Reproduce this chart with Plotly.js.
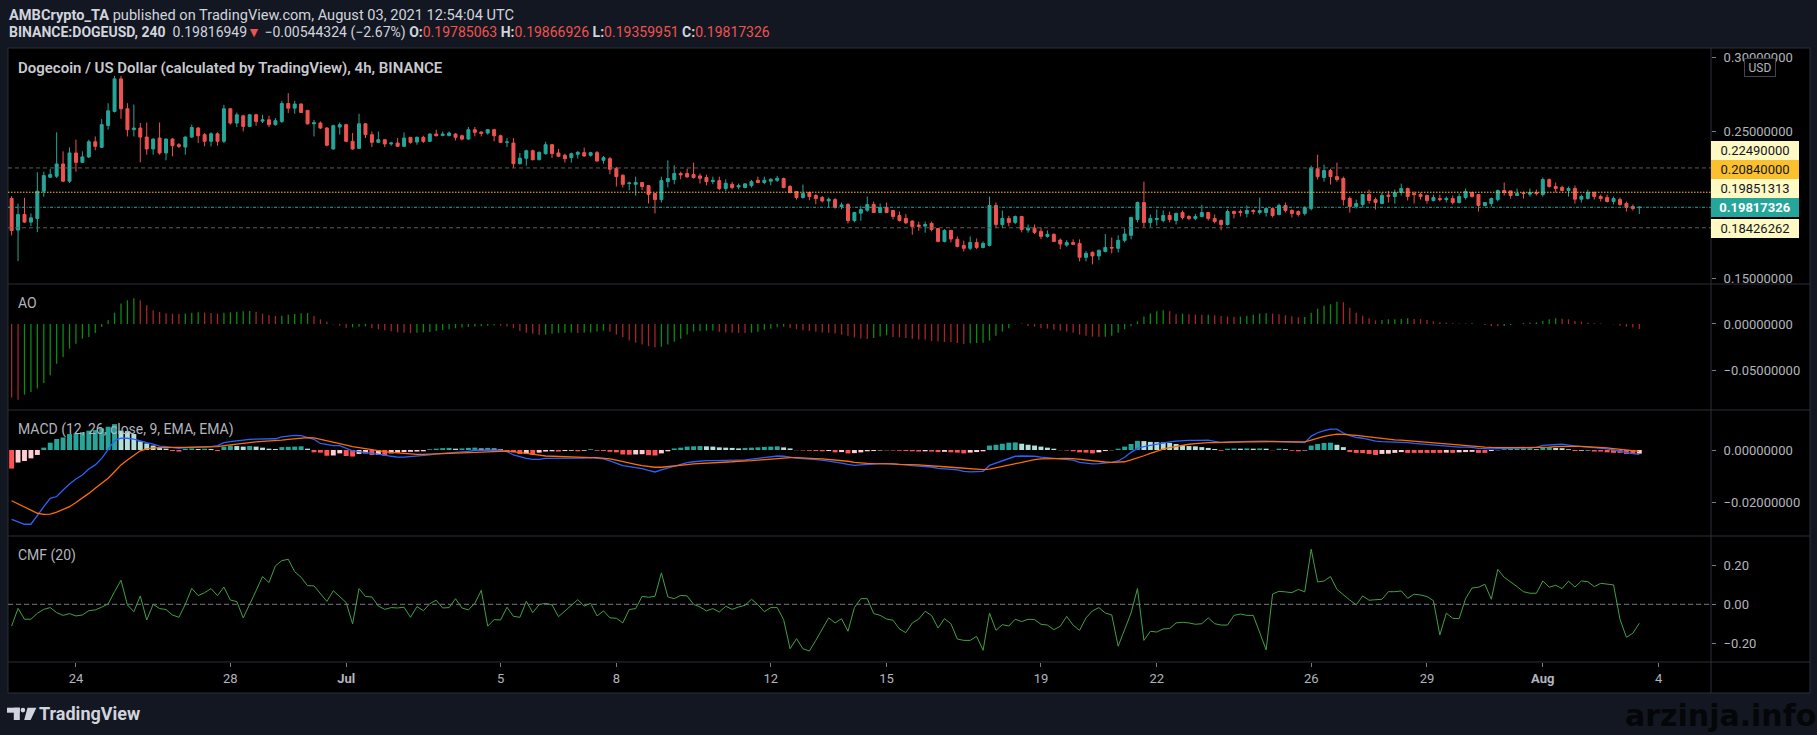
<!DOCTYPE html>
<html><head><meta charset="utf-8">
<script src="https://cdn.plot.ly/plotly-3.0.1.min.js"></script>
<style>html,body{margin:0;padding:0;background:#131722;overflow:hidden}#chart{width:1817px;height:735px}</style>
</head><body><div id="chart"></div>
<script>
// ---------- DATA ----------
const barStartUTC = Date.UTC(2021, 5, 22, 8, 0); // first 4h bar: 22 Jun 2021 08:00
const barOpen = [.2041,.1827,.1933,.1881,.1906,.2091,.2186,.2193,.2276,.2159,
.2351,.2287,.2324,.2427,.2389,.2538,.2633,.2854,.2651,.2509,
.2520,.2459,.2378,.2452,.2351,.2445,.2407,.2391,.2459,.2520,
.2475,.2430,.2481,.2430,.2651,.2554,.2603,.2531,.2610,.2567,
.2576,.2543,.2565,.2687,.2655,.2683,.2640,.2549,.2554,.2520,
.2378,.2527,.2543,.2430,.2382,.2549,.2475,.2423,.2441,.2412,
.2418,.2396,.2457,.2425,.2457,.2430,.2479,.2470,.2470,.2479,
.2468,.2445,.2509,.2493,.2486,.2509,.2468,.2423,.2418,.2278,
.2315,.2366,.2305,.2346,.2407,.2351,.2335,.2319,.2342,.2353,
.2335,.2353,.2301,.2312,.2247,.2199,.2143,.2138,.2150,.2129,
.2075,.2034,.2156,.2170,.2211,.2211,.2204,.2195,.2184,.2156,
.2163,.2109,.2138,.2120,.2116,.2129,.2165,.2150,.2159,.2165,
.2177,.2123,.2089,.2048,.2082,.2062,.2048,.2025,.2034,.1987,
.2001,.1892,.1942,.1962,.2001,.1946,.1980,.1960,.1926,.1906,
.1888,.1861,.1854,.1872,.1838,.1750,.1825,.1764,.1723,.1703,
.1743,.1709,.1723,.1994,.1865,.1906,.1879,.1919,.1827,.1840,
.1818,.1784,.1798,.1759,.1725,.1743,.1736,.1642,.1676,.1651,
.1682,.1709,.1703,.1757,.1791,.1899,.2014,.1879,.1899,.1892,
.1926,.1892,.1946,.1919,.1906,.1919,.1946,.1906,.1892,.1865,
.1953,.1953,.1940,.1960,.1946,.1946,.1973,.1933,.1994,.1960,
.1953,.1940,.1973,.2244,.2184,.2231,.2190,.2177,.2041,.1987,
.2001,.2068,.2034,.2007,.2064,.2055,.2082,.2109,.2075,.2068,
.2062,.2028,.2041,.2034,.2041,.2014,.2048,.2082,.2068,.1994,
.2007,.2034,.2096,.2093,.2062,.2080,.2071,.2082,.2068,.2170,
.2123,.2116,.2096,.2109,.2037,.2041,.2082,.2055,.2048,.2021,
.2034,.2007,.1987,.1979];
const barHigh = [.2057,.2007,.2046,.1940,.2220,.2224,.2242,.2491,.2362,.2389,
.2441,.2362,.2441,.2463,.2581,.2689,.2875,.2875,.2689,.2680,
.2554,.2558,.2450,.2558,.2450,.2452,.2418,.2463,.2543,.2527,
.2486,.2491,.2491,.2678,.2655,.2626,.2610,.2617,.2617,.2610,
.2603,.2588,.2705,.2757,.2705,.2689,.2644,.2576,.2565,.2527,
.2543,.2558,.2549,.2486,.2617,.2554,.2497,.2497,.2445,.2427,
.2452,.2491,.2459,.2463,.2468,.2486,.2509,.2497,.2497,.2486,
.2475,.2527,.2527,.2497,.2513,.2515,.2475,.2452,.2452,.2351,
.2373,.2373,.2362,.2427,.2412,.2378,.2346,.2353,.2364,.2387,
.2359,.2364,.2330,.2324,.2256,.2206,.2156,.2190,.2154,.2134,
.2077,.2190,.2301,.2267,.2224,.2244,.2285,.2211,.2204,.2190,
.2190,.2172,.2154,.2143,.2145,.2168,.2190,.2190,.2179,.2195,
.2184,.2134,.2093,.2136,.2089,.2071,.2059,.2048,.2044,.2014,
.2010,.1951,.1992,.2055,.2021,.2007,.2014,.1964,.1953,.1935,
.1894,.1885,.1885,.1885,.1840,.1833,.1827,.1784,.1755,.1784,
.1770,.1750,.2055,.2014,.1960,.1924,.1926,.1924,.1865,.1865,
.1845,.1825,.1804,.1770,.1759,.1764,.1764,.1684,.1682,.1696,
.1800,.1777,.1791,.1838,.1917,.2021,.2156,.1933,.1967,.1960,
.1953,.1946,.1960,.1928,.1937,.1998,.1946,.1933,.1899,.1967,
.1960,.1967,.1994,.1969,.2048,.1980,.1980,.2007,.2014,.1969,
.1960,.1989,.2265,.2339,.2271,.2244,.2285,.2190,.2055,.2034,
.2068,.2102,.2048,.2082,.2093,.2102,.2143,.2116,.2089,.2082,
.2068,.2068,.2068,.2055,.2062,.2075,.2109,.2089,.2068,.2016,
.2048,.2102,.2150,.2093,.2109,.2089,.2109,.2102,.2184,.2177,
.2150,.2129,.2123,.2129,.2068,.2102,.2089,.2068,.2068,.2055,
.2048,.2021,.2001,.1987];
const barLow = [.1791,.1616,.1876,.1854,.1813,.2053,.2181,.2181,.2152,.2147,
.2224,.2283,.2317,.2369,.2384,.2509,.2626,.2583,.2463,.2463,
.2287,.2339,.2339,.2339,.2301,.2328,.2384,.2339,.2452,.2418,
.2396,.2396,.2400,.2418,.2543,.2527,.2497,.2527,.2536,.2554,
.2527,.2536,.2554,.2622,.2617,.2622,.2543,.2463,.2513,.2396,
.2373,.2475,.2423,.2373,.2378,.2452,.2391,.2418,.2391,.2400,
.2391,.2391,.2414,.2407,.2418,.2425,.2463,.2463,.2463,.2436,
.2436,.2441,.2463,.2463,.2475,.2430,.2418,.2391,.2249,.2272,
.2265,.2301,.2301,.2339,.2317,.2324,.2285,.2285,.2312,.2326,
.2326,.2292,.2278,.2206,.2123,.2116,.2098,.2062,.2098,.2007,
.1940,.2014,.2116,.2138,.2172,.2184,.2177,.2143,.2131,.2138,
.2098,.2093,.2104,.2104,.2111,.2116,.2145,.2138,.2131,.2154,
.2111,.2077,.2034,.2041,.2030,.2003,.2014,.1980,.1973,.1969,
.1872,.1879,.1890,.1951,.1944,.1942,.1942,.1899,.1885,.1867,
.1795,.1822,.1809,.1818,.1743,.1743,.1743,.1709,.1682,.1691,
.1698,.1703,.1716,.1840,.1840,.1852,.1867,.1811,.1809,.1800,
.1766,.1775,.1748,.1698,.1714,.1725,.1614,.1614,.1594,.1623,
.1675,.1669,.1675,.1743,.1764,.1879,.1845,.1845,.1858,.1879,
.1879,.1865,.1899,.1894,.1894,.1913,.1892,.1872,.1825,.1858,
.1906,.1919,.1913,.1933,.1933,.1919,.1913,.1926,.1946,.1913,
.1919,.1926,.1960,.2170,.2156,.2136,.2156,.1994,.1946,.1973,
.1980,.2007,.1967,.2003,.2014,.2007,.2062,.2028,.2007,.2034,
.2007,.2021,.2021,.2014,.2001,.2007,.2034,.2048,.1953,.1987,
.1987,.2021,.2062,.2041,.2062,.2041,.2055,.2062,.2055,.2116,
.2082,.2089,.2055,.2007,.2014,.2034,.2034,.2021,.2014,.2001,
.1992,.1953,.1960,.1936];
const barClose = [.1824,.1933,.1881,.1910,.2091,.2197,.2204,.2276,.2159,.2351,
.2287,.2324,.2427,.2396,.2543,.2637,.2854,.2651,.2509,.2520,
.2459,.2378,.2445,.2351,.2445,.2400,.2396,.2459,.2524,.2468,
.2430,.2481,.2430,.2651,.2554,.2610,.2531,.2610,.2565,.2576,
.2543,.2570,.2687,.2655,.2683,.2626,.2549,.2556,.2520,.2403,
.2536,.2543,.2430,.2378,.2549,.2475,.2423,.2441,.2412,.2418,
.2396,.2452,.2423,.2457,.2430,.2479,.2468,.2479,.2486,.2457,
.2445,.2509,.2491,.2484,.2509,.2468,.2423,.2425,.2278,.2315,
.2366,.2305,.2355,.2407,.2346,.2328,.2312,.2346,.2355,.2330,
.2353,.2296,.2319,.2240,.2190,.2138,.2147,.2150,.2123,.2068,
.2034,.2163,.2177,.2211,.2202,.2188,.2184,.2179,.2156,.2165,
.2109,.2145,.2116,.2129,.2141,.2156,.2150,.2165,.2172,.2179,
.2116,.2082,.2048,.2075,.2055,.2041,.2025,.2037,.1980,.1998,
.1892,.1946,.1967,.2001,.1946,.1980,.1946,.1919,.1892,.1876,
.1852,.1852,.1865,.1831,.1750,.1825,.1766,.1716,.1703,.1743,
.1709,.1736,.1994,.1865,.1906,.1879,.1919,.1831,.1840,.1811,
.1784,.1798,.1750,.1732,.1743,.1730,.1642,.1669,.1651,.1689,
.1709,.1705,.1757,.1800,.1913,.2014,.1879,.1906,.1906,.1926,
.1899,.1940,.1913,.1906,.1919,.1946,.1906,.1885,.1865,.1953,
.1940,.1946,.1960,.1953,.1960,.1973,.1926,.1994,.1960,.1940,
.1933,.1980,.2251,.2190,.2231,.2190,.2170,.2034,.1987,.2007,
.2068,.2028,.2014,.2062,.2057,.2082,.2109,.2055,.2068,.2055,
.2028,.2048,.2034,.2041,.2014,.2055,.2089,.2055,.1994,.2014,
.2041,.2096,.2082,.2062,.2075,.2075,.2082,.2075,.2170,.2123,
.2109,.2096,.2109,.2037,.2055,.2082,.2055,.2041,.2021,.2041,
.2001,.1980,.1973,.1982];
const aoValues = [-.0789,-.0810,-.0757,-.0728,-.0692,-.0632,-.0550,-.0425,-.0353,-.0264,
-.0211,-.0157,-.0139,-.0096,-.0032,.0039,.0121,.0218,.0253,.0275,
.0253,.0200,.0146,.0128,.0114,.0110,.0106,.0111,.0121,.0125,
.0122,.0118,.0111,.0121,.0125,.0132,.0136,.0138,.0130,.0110,
.0096,.0086,.0089,.0100,.0107,.0114,.0118,.0086,.0050,.0025,
-.0005,-.0020,-.0040,-.0036,-.0031,-.0025,-.0043,-.0057,-.0068,-.0078,
-.0090,-.0095,-.0098,-.0093,-.0090,-.0086,-.0075,-.0064,-.0057,-.0046,
-.0039,-.0032,-.0028,-.0025,-.0018,-.0014,-.0018,-.0028,-.0046,-.0075,
-.0093,-.0104,-.0116,-.0114,-.0104,-.0096,-.0094,-.0092,-.0096,-.0094,
-.0092,-.0080,-.0071,-.0082,-.0114,-.0143,-.0178,-.0200,-.0221,-.0236,
-.0250,-.0243,-.0221,-.0189,-.0157,-.0114,-.0082,-.0075,-.0072,-.0070,
-.0082,-.0090,-.0093,-.0095,-.0097,-.0093,-.0082,-.0061,-.0050,-.0036,
-.0029,-.0043,-.0057,-.0068,-.0075,-.0082,-.0090,-.0095,-.0103,-.0114,
-.0125,-.0143,-.0155,-.0160,-.0150,-.0135,-.0121,-.0140,-.0143,-.0150,
-.0157,-.0165,-.0168,-.0182,-.0186,-.0193,-.0196,-.0203,-.0214,-.0207,
-.0205,-.0200,-.0178,-.0125,-.0082,-.0046,-.0004,.0004,-.0021,-.0029,
-.0043,-.0050,-.0061,-.0071,-.0082,-.0093,-.0114,-.0125,-.0136,-.0138,
-.0136,-.0125,-.0093,-.0057,-.0025,.0029,.0079,.0111,.0136,.0146,
.0136,.0104,.0111,.0104,.0100,.0098,.0100,.0093,.0086,.0079,
.0077,.0079,.0089,.0100,.0111,.0114,.0111,.0104,.0093,.0082,
.0071,.0075,.0121,.0164,.0196,.0211,.0239,.0232,.0175,.0121,
.0089,.0061,.0039,.0043,.0050,.0051,.0054,.0061,.0054,.0052,
.0043,.0029,.0018,.0014,.0007,.0004,.0005,.0007,.0000,-.0011,
-.0021,-.0025,-.0021,-.0011,.0000,.0011,.0014,.0018,.0032,.0050,
.0061,.0057,.0050,.0032,.0025,.0014,.0007,.0004,.0000,-.0004,
-.0018,-.0029,-.0039,-.0054];
const macdLine = [-.0265,-.0274,-.0284,-.0284,-.0248,-.0217,-.0185,-.0178,-.0153,-.0130,
-.0111,-.0096,-.0073,-.0057,-.0032,.0000,.0036,.0045,.0045,.0042,
.0034,.0028,.0022,.0015,.0013,.0010,.0006,.0009,.0010,.0010,
.0013,.0013,.0017,.0028,.0032,.0036,.0038,.0041,.0042,.0043,
.0043,.0043,.0050,.0053,.0056,.0055,.0048,.0041,.0025,.0022,
.0017,.0017,.0006,-.0003,-.0006,-.0009,-.0013,-.0015,-.0020,-.0024,
-.0027,-.0027,-.0025,-.0023,-.0022,-.0019,-.0015,-.0014,-.0011,-.0009,
-.0008,-.0005,-.0001,.0000,.0000,.0000,-.0001,-.0006,-.0019,-.0027,
-.0032,-.0036,-.0036,-.0032,-.0032,-.0032,-.0032,-.0031,-.0031,-.0031,
-.0029,-.0032,-.0034,-.0042,-.0052,-.0060,-.0064,-.0068,-.0071,-.0078,
-.0084,-.0076,-.0069,-.0060,-.0053,-.0048,-.0045,-.0042,-.0041,-.0041,
-.0041,-.0041,-.0039,-.0039,-.0038,-.0036,-.0032,-.0029,-.0027,-.0023,
-.0024,-.0028,-.0031,-.0033,-.0034,-.0037,-.0039,-.0042,-.0045,-.0050,
-.0055,-.0059,-.0057,-.0055,-.0052,-.0052,-.0052,-.0053,-.0055,-.0057,
-.0060,-.0062,-.0064,-.0065,-.0070,-.0073,-.0074,-.0076,-.0082,-.0084,
-.0084,-.0082,-.0059,-.0050,-.0042,-.0034,-.0024,-.0023,-.0023,-.0024,
-.0027,-.0029,-.0032,-.0034,-.0037,-.0039,-.0047,-.0051,-.0053,-.0052,
-.0050,-.0047,-.0042,-.0028,-.0009,.0006,.0013,.0018,.0023,.0027,
.0031,.0034,.0036,.0037,.0037,.0038,.0038,.0033,.0029,.0031,
.0032,.0032,.0033,.0033,.0034,.0034,.0033,.0033,.0032,.0031,
.0028,.0028,.0053,.0066,.0074,.0080,.0080,.0065,.0055,.0048,
.0045,.0039,.0034,.0032,.0031,.0031,.0031,.0028,.0025,.0023,
.0020,.0018,.0015,.0014,.0013,.0011,.0011,.0010,.0006,.0004,
.0004,.0005,.0006,.0008,.0009,.0009,.0010,.0010,.0018,.0020,
.0022,.0022,.0019,.0015,.0013,.0011,.0009,.0006,.0004,.0000,
-.0005,-.0010,-.0014,-.0017];
const signalLine = [-.0194,-.0206,-.0219,-.0232,-.0242,-.0246,-.0245,-.0238,-.0229,-.0217,
-.0201,-.0185,-.0166,-.0146,-.0127,-.0108,-.0083,-.0057,-.0038,-.0019,
-.0003,.0004,.0008,.0009,.0010,.0010,.0010,.0010,.0011,.0011,
.0013,.0013,.0013,.0017,.0020,.0024,.0027,.0029,.0031,.0033,
.0034,.0036,.0038,.0041,.0043,.0046,.0047,.0046,.0041,.0034,
.0029,.0024,.0019,.0013,.0009,.0004,.0000,-.0003,-.0006,-.0009,
-.0011,-.0014,-.0015,-.0017,-.0017,-.0017,-.0015,-.0014,-.0013,-.0011,
-.0010,-.0009,-.0008,-.0006,-.0005,-.0004,-.0004,-.0004,-.0006,-.0010,
-.0014,-.0018,-.0020,-.0023,-.0024,-.0025,-.0027,-.0027,-.0028,-.0028,
-.0029,-.0029,-.0031,-.0034,-.0039,-.0045,-.0050,-.0055,-.0060,-.0064,
-.0066,-.0066,-.0064,-.0061,-.0059,-.0056,-.0053,-.0052,-.0050,-.0048,
-.0047,-.0046,-.0045,-.0043,-.0043,-.0041,-.0039,-.0037,-.0034,-.0032,
-.0029,-.0029,-.0029,-.0031,-.0032,-.0033,-.0034,-.0036,-.0037,-.0039,
-.0043,-.0047,-.0050,-.0051,-.0052,-.0052,-.0052,-.0053,-.0055,-.0055,
-.0056,-.0057,-.0059,-.0060,-.0062,-.0064,-.0066,-.0068,-.0070,-.0073,
-.0074,-.0075,-.0073,-.0068,-.0062,-.0057,-.0052,-.0046,-.0041,-.0037,
-.0034,-.0033,-.0032,-.0032,-.0032,-.0033,-.0036,-.0039,-.0042,-.0045,
-.0046,-.0047,-.0047,-.0045,-.0038,-.0031,-.0022,-.0013,-.0004,.0003,
.0009,.0014,.0018,.0022,.0024,.0027,.0028,.0028,.0029,.0029,
.0029,.0031,.0031,.0031,.0032,.0032,.0032,.0032,.0032,.0032,
.0031,.0031,.0038,.0046,.0052,.0057,.0061,.0060,.0059,.0056,
.0053,.0050,.0047,.0043,.0041,.0039,.0038,.0036,.0033,.0031,
.0028,.0025,.0023,.0022,.0019,.0018,.0017,.0015,.0013,.0011,
.0010,.0009,.0009,.0009,.0009,.0009,.0009,.0009,.0010,.0011,
.0013,.0014,.0014,.0014,.0014,.0013,.0011,.0010,.0008,.0005,
.0003,.0000,-.0003,-.0005];
const macdHist = [-.0071,-.0048,-.0042,-.0032,-.0019,.0009,.0028,.0042,.0048,.0061,
.0064,.0068,.0074,.0076,.0083,.0089,.0099,.0074,.0072,.0061,
.0033,.0025,.0017,.0009,.0005,-.0004,-.0006,.0005,.0006,.0004,
.0005,.0004,-.0004,.0013,.0017,.0015,.0013,.0015,.0013,.0009,
.0005,.0004,.0011,.0012,.0013,.0014,.0005,-.0009,-.0010,-.0022,
-.0021,-.0013,-.0023,-.0025,-.0015,-.0013,-.0019,-.0018,-.0022,-.0013,
-.0010,-.0008,-.0007,-.0006,-.0005,.0003,.0005,.0007,.0008,.0005,
.0006,.0008,.0009,.0006,.0008,.0006,.0003,-.0004,-.0009,-.0015,
-.0014,-.0018,-.0010,-.0006,-.0005,-.0006,-.0004,-.0003,-.0005,-.0003,
.0003,-.0003,-.0004,-.0007,-.0009,-.0017,-.0018,-.0017,-.0016,-.0020,
-.0021,-.0013,-.0005,.0006,.0009,.0013,.0014,.0015,.0014,.0013,
.0010,.0009,.0008,.0006,.0008,.0009,.0010,.0012,.0013,.0014,
.0010,.0006,-.0001,-.0002,-.0003,-.0004,-.0005,-.0004,-.0009,-.0008,
-.0013,-.0012,-.0009,-.0005,-.0004,-.0002,-.0001,-.0002,-.0003,-.0004,
-.0005,-.0006,-.0005,-.0006,-.0008,-.0007,-.0009,-.0010,-.0013,-.0010,
-.0008,-.0005,.0017,.0020,.0024,.0028,.0029,.0024,.0020,.0017,
.0013,.0009,.0005,-.0001,-.0002,-.0005,-.0009,-.0010,-.0013,-.0009,
-.0004,-.0001,.0005,.0013,.0023,.0035,.0034,.0031,.0030,.0029,
.0027,.0023,.0019,.0015,.0014,.0011,.0008,.0004,-.0003,.0005,
.0006,.0005,.0006,.0005,.0006,.0005,-.0001,.0005,.0003,-.0003,
-.0005,-.0002,.0017,.0023,.0027,.0028,.0020,.0011,-.0008,-.0011,
-.0012,-.0015,-.0019,-.0015,-.0014,-.0011,-.0008,-.0011,-.0011,-.0011,
-.0011,-.0011,-.0011,-.0010,-.0011,-.0009,-.0008,-.0007,-.0011,-.0011,
-.0004,-.0001,.0003,.0004,.0005,.0006,.0007,.0003,.0010,.0011,
.0008,.0007,.0003,-.0004,-.0003,-.0002,-.0006,-.0006,-.0009,-.0011,
-.0011,-.0015,-.0015,-.0014];
const cmfValues = [-.112,-.021,-.077,-.077,-.046,-.026,-.017,-.043,-.057,-.048,
-.060,-.055,-.033,-.029,-.015,.002,.065,.124,-.003,-.038,
.043,-.081,.000,-.022,-.027,-.055,-.067,.000,.082,.045,
.060,.081,.045,.089,.022,.014,-.070,-.003,.070,.143,
.112,.198,.225,.232,.168,.139,.096,.095,.053,.015,
.070,.040,.009,-.101,.081,.040,.038,-.009,-.026,-.017,
-.019,-.015,-.067,-.012,-.033,.003,.021,-.019,-.017,.029,
-.019,-.029,.005,.072,-.112,-.079,-.081,-.015,-.062,-.067,
.015,-.043,-.002,.005,-.003,-.064,-.034,-.003,.024,-.009,
.005,-.060,-.034,-.070,-.072,-.096,-.027,-.022,.041,.036,
.041,.162,.038,.029,.046,.043,.000,-.014,-.034,-.022,
-.040,-.010,-.026,-.014,-.005,.026,-.002,-.038,-.017,-.017,
-.079,-.229,-.177,-.229,-.241,-.186,-.125,-.070,-.096,-.074,
-.139,-.017,.029,.029,-.048,-.057,-.076,-.082,-.127,-.146,
-.096,-.076,-.036,-.058,-.122,-.074,-.100,-.179,-.186,-.186,
-.165,-.237,-.045,-.134,-.105,-.112,-.077,-.089,-.077,-.079,
-.103,-.107,-.131,-.113,-.062,-.108,-.134,-.070,-.034,-.017,
-.045,-.055,-.216,-.134,-.045,.081,-.186,-.139,-.143,-.127,
-.125,-.096,-.093,-.096,-.103,-.100,-.070,-.100,-.107,-.107,
-.057,-.050,-.057,-.057,-.149,-.235,.053,.067,.064,.060,
.077,.064,.284,.115,.120,.143,.077,.048,.022,-.003,
.043,.021,.022,.026,.065,.065,.069,.031,.052,.048,
.040,.019,-.158,-.046,-.072,-.074,.029,.084,.088,.103,
.026,.180,.139,.117,.091,.065,.057,.057,.120,.088,
.098,.081,.119,.089,.120,.117,.091,.108,.105,.100,
-.077,-.170,-.149,-.098];
const tickDates = ['2021-06-24','2021-06-28','2021-07-01','2021-07-05','2021-07-08','2021-07-12','2021-07-15','2021-07-19','2021-07-22','2021-07-26','2021-07-29','2021-08-01','2021-08-04'];
const tickLabels = ['24','28','<b>Jul</b>','5','8','12','15','19','22','26','29','<b>Aug</b>','4'];
const levelValues = [0.2249, 0.2084, 0.19851313, 0.19817326, 0.18426262];
const priceTicks = [0.15, 0.25, 0.30];
const aoTicks = [0, -0.05];
const macdTicks = [0, -0.02];
const cmfTicks = [-0.2, 0, 0.2];

// ---------- derived ----------
function fmtTime(ms){ return new Date(ms).toISOString().slice(0,16).replace('T',' '); }
const barTimes = barClose.map((_, i) => fmtTime(barStartUTC + i * 4 * 3600 * 1000));
const aoColors = aoValues.map((v, i) => (i > 0 && v > aoValues[i-1]) ? '#0c8a12' : '#a3262b');
const histColors = macdHist.map((v, i) => {
  const p = i > 0 ? macdHist[i-1] : v;
  if (v >= 0) return p < v ? '#26a69a' : '#b2dfdb';
  return p < v ? '#ffcdd2' : '#ff5252';
});

// ---------- layout geometry ----------
const PL = 8, PR = 1711, PT = 48, PB = 662;
const px2x = px => (px - PL) / (PR - PL);
const py2y = py => (PB - py) / (PB - PT);
const FONT = 'Roboto, "Liberation Sans", Arial, sans-serif';
const tickFont = {family: FONT, size: 13, color: '#b2b5be'};
const yBase = {side:'right', anchor:'x', showgrid:false, zeroline:false, showline:false,
  ticks:'outside', ticklen:4, tickwidth:1, tickcolor:'#787b86', tickfont:tickFont,
  fixedrange:true, ticklabelstandoff:5};

const traces = [
  {type:'candlestick', x:barTimes, open:barOpen, high:barHigh, low:barLow, close:barClose,
   xaxis:'x', yaxis:'y', whiskerwidth:0, hoverinfo:'skip', showlegend:false,
   increasing:{line:{color:'#26a69a', width:1}, fillcolor:'#26a69a'},
   decreasing:{line:{color:'#ef5350', width:1}, fillcolor:'#ef5350'}},
  {type:'bar', x:barTimes, y:aoValues, xaxis:'x', yaxis:'y2', width:2.9e6,
   marker:{color:aoColors, line:{width:0}}, hoverinfo:'skip', showlegend:false},
  {type:'bar', x:barTimes, y:macdHist, xaxis:'x', yaxis:'y3', width:1.1e7,
   marker:{color:histColors, line:{width:0}}, hoverinfo:'skip', showlegend:false},
  {type:'scatter', mode:'lines', x:barTimes, y:macdLine, xaxis:'x', yaxis:'y3',
   line:{color:'#2962ff', width:1.3}, hoverinfo:'skip', showlegend:false},
  {type:'scatter', mode:'lines', x:barTimes, y:signalLine, xaxis:'x', yaxis:'y3',
   line:{color:'#ff6d00', width:1.3}, hoverinfo:'skip', showlegend:false},
  {type:'scatter', mode:'lines', x:barTimes, y:cmfValues, xaxis:'x', yaxis:'y4',
   line:{color:'#43a047', width:1}, hoverinfo:'skip', showlegend:false}
];

const sepColor = '#2a2e39';
const shapes = [
  {type:'rect', xref:'paper', yref:'paper', x0:px2x(8), x1:px2x(1810), y0:py2y(693), y1:py2y(48),
   fillcolor:'#000000', line:{color:sepColor, width:1}, layer:'below'},
  {type:'line', xref:'paper', yref:'paper', x0:1, x1:1, y0:py2y(693), y1:py2y(48), line:{color:sepColor, width:1}},
  ...[284, 410, 536, 662].map(py => ({type:'line', xref:'paper', yref:'paper', x0:px2x(8), x1:px2x(1810),
     y0:py2y(py), y1:py2y(py), line:{color:sepColor, width:1}})),
  {type:'line', xref:'paper', yref:'y', x0:0, x1:1, y0:levelValues[0], y1:levelValues[0], line:{color:'#5a5d55', width:1, dash:'4px,3px'}},
  {type:'line', xref:'paper', yref:'y', x0:0, x1:1, y0:levelValues[4], y1:levelValues[4], line:{color:'#5a5d55', width:1, dash:'4px,3px'}},
  {type:'line', xref:'paper', yref:'y', x0:0, x1:1, y0:levelValues[1], y1:levelValues[1], line:{color:'#fbc02d', width:1, dash:'1.5px,1.5px'}},
  {type:'line', xref:'paper', yref:'y', x0:0, x1:1, y0:levelValues[3], y1:levelValues[3], line:{color:'#26a69a', width:1, dash:'3px,1.5px,1px,1.5px'}},
  {type:'line', xref:'paper', yref:'y4', x0:0, x1:1, y0:0, y1:0, line:{color:'#787b86', width:1, dash:'5px,3px'}},
  // TradingView logo mark
  {type:'rect', xref:'paper', yref:'paper', x0:px2x(7), x1:px2x(19.8), y0:py2y(712.7), y1:py2y(707.7), fillcolor:'#d1d4dc', line:{width:0}},
  {type:'rect', xref:'paper', yref:'paper', x0:px2x(13.8), x1:px2x(19.8), y0:py2y(720), y1:py2y(707.7), fillcolor:'#d1d4dc', line:{width:0}},
  {type:'circle', xref:'paper', yref:'paper', x0:px2x(20.6), x1:px2x(25.2), y0:py2y(712.4), y1:py2y(707.8), fillcolor:'#d1d4dc', line:{width:0}},
  {type:'path', xref:'paper', yref:'paper', fillcolor:'#d1d4dc', line:{width:0},
   path:`M ${px2x(27.5)},${py2y(707.7)} L ${px2x(36.4)},${py2y(707.7)} L ${px2x(30.6)},${py2y(720)} L ${px2x(24.2)},${py2y(720)} Z`}
];

const red = '#ef5350';
const hdr2 = '<b>BINANCE:DOGEUSD, 240</b>  0.19816949<span style="color:'+red+'">▼</span> −0.00544324 (−2.67%) ' +
  '<b>O:</b><span style="color:'+red+'">0.19785063</span> <b>H:</b><span style="color:'+red+'">0.19866926</span> ' +
  '<b>L:</b><span style="color:'+red+'">0.19359951</span> <b>C:</b><span style="color:'+red+'">0.19817326</span>';
const ann = (text, xpx, ypx, font, extra) => Object.assign({text, xref:'paper', yref:'paper', x:px2x(xpx), y:py2y(ypx),
  xanchor:'left', yanchor:'middle', showarrow:false, font:Object.assign({family:FONT}, font)}, extra || {});

const labelStyles = [
  {bg:'#fff9c4', fg:'#131722', py:150.5, bold:false},
  {bg:'#fbc02d', fg:'#131722', py:169.5, bold:false},
  {bg:'#fff9c4', fg:'#131722', py:188.5, bold:false},
  {bg:'#26a69a', fg:'#ffffff', py:207.5, bold:true},
  {bg:'#fff9c4', fg:'#131722', py:228.5, bold:false}
];
const annotations = [
  ann('<b>AMBCrypto_TA</b> published on TradingView.com, August 03, 2021 12:54:04 UTC', 7, 15, {size:14.6, color:'#d1d4dc'}),
  ann(hdr2, 7, 33, {size:14, color:'#d1d4dc'}),
  ann('Dogecoin / US Dollar (calculated by TradingView), 4h, BINANCE', 16, 68, {size:15, color:'#c8cad1', weight:600}),
  ann('AO', 16, 303, {size:14, color:'#b2b5be'}),
  ann('MACD (12, 26, close, 9, EMA, EMA)', 16, 429, {size:14, color:'#b2b5be'}),
  ann('CMF (20)', 16, 555, {size:14, color:'#b2b5be'}),
  ann('USD', 1744, 67.5, {size:12, color:'#b2b5be'}, {bgcolor:'#000000', bordercolor:'#434651', borderwidth:1, borderpad:2, width:26, height:13}),
  ann('TradingView', 36.5, 713, {size:18, color:'#d1d4dc', weight:700}),
  Object.assign(ann('arzinja.info', 1817, 715, {size:30, color:'#050608', weight:'bold', shadow:'none',
      family:'"DejaVu Sans", "Liberation Sans", Arial, sans-serif'}), {xanchor:'right', borderpad:0, opacity:1}),
  ...levelValues.map((v, k) => ann(labelStyles[k].bold ? '<b>'+v.toFixed(8)+'</b>' : v.toFixed(8), 1711, labelStyles[k].py,
     {size:13, color:labelStyles[k].fg}, {bgcolor:labelStyles[k].bg, borderpad:1, borderwidth:0, width:86, height:17, align:'center'}))
];

const layout = {
  width:1817, height:735, margin:{l:PL, r:1817-PR, t:PT, b:735-PB, pad:0},
  paper_bgcolor:'#131722', plot_bgcolor:'#000000', showlegend:false, hovermode:false,
  barmode:'overlay', boxgap:0.34, dragmode:false,
  font:{family:FONT, color:'#b2b5be'},
  xaxis:{type:'date', range:['2021-06-22 05:45','2021-08-05 08:35'], anchor:'y4', showgrid:false, zeroline:false,
    showline:false, ticks:'outside', ticklen:4, tickcolor:'#787b86', tickvals:tickDates, ticktext:tickLabels,
    tickfont:tickFont, rangeslider:{visible:false}, fixedrange:true},
  yaxis: Object.assign({}, yBase, {domain:[py2y(284), 1], range:[0.14606, 0.30639], tickvals:priceTicks, tickformat:'.8f'}),
  yaxis2:Object.assign({}, yBase, {domain:[py2y(410), py2y(284)], range:[-0.0921, 0.0428], tickvals:aoTicks, tickformat:'.8f'}),
  yaxis3:Object.assign({}, yBase, {domain:[py2y(536), py2y(410)], range:[-0.0329, 0.0153], tickvals:macdTicks, tickformat:'.8f'}),
  yaxis4:Object.assign({}, yBase, {domain:[0, py2y(536)], range:[-0.2974, 0.352], tickvals:cmfTicks, tickformat:'.2f'}),
  shapes, annotations
};

Plotly.newPlot('chart', traces, layout, {staticPlot:true, displayModeBar:false, responsive:false});
</script></body></html>
